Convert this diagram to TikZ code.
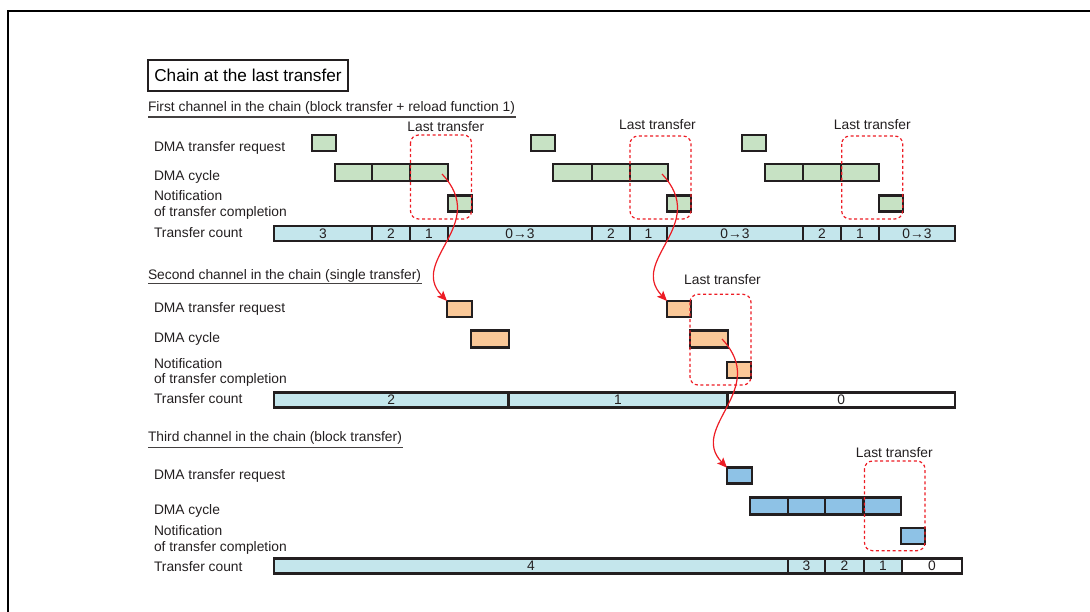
\documentclass[tikz,border=0pt]{standalone}
\usepackage{fontspec}
\setmainfont{Liberation Sans}
\usetikzlibrary{arrows.meta,calc}

\definecolor{ink}{RGB}{35,31,32}
\definecolor{gfill}{RGB}{199,226,196}
\definecolor{ofill}{RGB}{250,200,152}
\definecolor{bfill}{RGB}{142,194,230}
\definecolor{cfill}{RGB}{196,230,236}
\definecolor{chainred}{RGB}{237,28,36}

% a rectangular cell given by its left/right edges and vertical centre
\newcommand{\cell}[6]{%
  \node[#2, minimum width={(#4-#3)*1pt}] (#1) at ({(#3+#4)/2},#5) {#6};}

\begin{document}
\begin{tikzpicture}[x=1pt,y=-1pt,
  txt/.style={anchor=base west, inner sep=0pt, outer sep=0pt,
    font=\fontsize{13.8}{16}\selectfont, text=ink},
  note/.style={anchor=base, inner sep=0pt, outer sep=0pt,
    font=\fontsize{13.8}{16}\selectfont, text=ink},
  cellbase/.style={draw=ink, line width=2.8pt, inner sep=0pt, outer sep=0pt,
    font=\fontsize{13.8}{16}\selectfont, text=ink},
  greq/.style={cellbase, fill=gfill, minimum height=16pt},
  gcyc/.style={cellbase, fill=gfill, minimum height=17pt},
  gnot/.style={cellbase, fill=gfill, minimum height=16pt},
  oreq/.style={cellbase, fill=ofill, minimum height=16pt},
  ocyc/.style={cellbase, fill=ofill, minimum height=17pt},
  onot/.style={cellbase, fill=ofill, minimum height=16pt},
  breq/.style={cellbase, fill=bfill, minimum height=16pt},
  bcyc/.style={cellbase, fill=bfill, minimum height=17pt},
  bnot/.style={cellbase, fill=bfill, minimum height=16pt},
  cnt/.style={cellbase, fill=cfill, minimum height=15pt},
  cntz/.style={cellbase, fill=white, minimum height=15pt},
  lastbox/.style={draw=chainred, line width=1.2pt, dash pattern=on 3pt off 2.6pt,
    rounded corners=8pt},
  chain/.style={draw=chainred, line width=1.2pt,
    -{Stealth[length=10pt,width=8.5pt,inset=2pt]}},
  uline/.style={draw=ink!85, line width=1.3pt}
]
\useasboundingbox (0,0) rectangle (1090,612);

% page frame
\draw[line width=2pt, black] (7.5,612) -- (7.5,11) -- (1090,11);

% title
\node[draw=ink, line width=2pt, minimum width=200pt, minimum height=31pt,
  inner sep=0pt, font=\fontsize{17.2}{20}\selectfont, text=black] (title)
  at (248,75.5) {Chain at the last transfer};

% ---------------- first channel ----------------
\node[txt] (h1) at (148,112) {First channel in the chain (block transfer + reload function 1)};
\draw[uline] ($(h1.base west)+(0,5)$) -- ($(h1.base east)+(1,5)$);

\node[txt] (l1req) at (154,152) {DMA transfer request};
\node[txt] (l1cyc) at (154,181) {DMA cycle};
\node[txt] (l1not) at (154,201) {Notification};
\node[txt] (l1not2) at (154,217) {of transfer completion};
\node[txt] (l1cnt) at (154,238) {Transfer count};

\cell{r1a}{greq}{312}{336}{143}{}
\cell{r1b}{greq}{531}{555}{143}{}
\cell{r1c}{greq}{742}{766}{143}{}

\cell{c1a}{gcyc}{335}{372}{172.5}{}
\cell{c1b}{gcyc}{372}{410}{172.5}{}
\cell{c1c}{gcyc}{410}{448}{172.5}{}
\cell{c1d}{gcyc}{553}{592}{172.5}{}
\cell{c1e}{gcyc}{592}{630}{172.5}{}
\cell{c1f}{gcyc}{630}{668}{172.5}{}
\cell{c1g}{gcyc}{765}{803}{172.5}{}
\cell{c1h}{gcyc}{803}{841}{172.5}{}
\cell{c1i}{gcyc}{841}{879}{172.5}{}

\cell{n1a}{gnot}{448}{472}{203.5}{}
\cell{n1b}{gnot}{667}{691}{203.5}{}
\cell{n1c}{gnot}{879}{903}{203.5}{}

\cell{t1a}{cnt}{274}{372}{233.5}{3}
\cell{t1b}{cnt}{372}{410}{233.5}{2}
\cell{t1c}{cnt}{410}{448}{233.5}{1}
\cell{t1d}{cnt}{448}{592}{233.5}{0→3}
\cell{t1e}{cnt}{592}{630}{233.5}{2}
\cell{t1f}{cnt}{630}{667}{233.5}{1}
\cell{t1g}{cnt}{667}{803}{233.5}{0→3}
\cell{t1h}{cnt}{803}{841}{233.5}{2}
\cell{t1i}{cnt}{841}{879}{233.5}{1}
\cell{t1j}{cnt}{879}{955}{233.5}{0→3}

\draw[lastbox] (410.5,135) rectangle (471.5,219);
\draw[lastbox] (630,136) rectangle (691,219);
\draw[lastbox] (841.7,136) rectangle (902.7,219);
\node[note] (lt1a) at (445.8,132) {Last transfer};
\node[note] (lt1b) at (657.5,129.5) {Last transfer};
\node[note] (lt1c) at (872.3,129.5) {Last transfer};

% ---------------- second channel ----------------
\node[txt] (h2) at (148,279.3) {Second channel in the chain (single transfer)};
\draw[uline] ($(h2.base west)+(0,4.5)$) -- ($(h2.base east)+(1,4.5)$);

\node[txt] (l2req) at (154,313) {DMA transfer request};
\node[txt] (l2cyc) at (154,343) {DMA cycle};
\node[txt] (l2not) at (154,368) {Notification};
\node[txt] (l2not2) at (154,384) {of transfer completion};
\node[txt] (l2cnt) at (154,403) {Transfer count};

\cell{r2a}{oreq}{447}{472}{309}{}
\cell{r2b}{oreq}{667}{691}{309}{}
\cell{c2a}{ocyc}{471}{509}{339}{}
\cell{c2b}{ocyc}{690}{728}{339}{}
\cell{n2a}{onot}{727}{751}{370}{}

\cell{t2a}{cnt}{274}{508.5}{400}{2}
\cell{t2b}{cnt}{508.5}{727.5}{400}{1}
\cell{t2c}{cntz}{727.5}{955}{400}{0}

\draw[lastbox] (690,294.3) rectangle (751,385);
\node[note] (lt2) at (722.5,285) {Last transfer};

% ---------------- third channel ----------------
\node[txt] (h3) at (148,441.7) {Third channel in the chain (block transfer)};
\draw[uline] ($(h3.base west)+(0,6)$) -- ($(h3.base east)+(1,6)$);

\node[txt] (l3req) at (154,479) {DMA transfer request};
\node[txt] (l3cyc) at (154,514) {DMA cycle};
\node[txt] (l3not) at (154,535) {Notification};
\node[txt] (l3not2) at (154,551) {of transfer completion};
\node[txt] (l3cnt) at (154,571) {Transfer count};

\cell{r3a}{breq}{727}{752}{475.7}{}
\cell{c3a}{bcyc}{750}{788}{505.7}{}
\cell{c3b}{bcyc}{788}{825}{505.7}{}
\cell{c3c}{bcyc}{825}{863.5}{505.7}{}
\cell{c3d}{bcyc}{863.5}{901}{505.7}{}
\cell{n3a}{bnot}{901}{925}{536}{}

\cell{t3a}{cnt}{274}{788}{566}{4}
\cell{t3b}{cnt}{788}{825}{566}{3}
\cell{t3c}{cnt}{825}{864}{566}{2}
\cell{t3d}{cnt}{864}{902}{566}{1}
\cell{t3e}{cntz}{902}{962}{566}{0}

\draw[lastbox] (864.5,461) rectangle (925,550.7);
\node[note] (lt3) at (894.3,457) {Last transfer};

% ---------------- chain links ----------------
\coordinate (s1) at ($(c1c.center)+(13,1.5)$);
\coordinate (s2) at ($(c1f.center)+(13,1.5)$);
\coordinate (s3) at ($(c2b.center)+(13,0)$);
\draw[chain] (s1) .. controls +(48,51) and +(-39,-41) .. (r2a.north west);
\draw[chain] (s2) .. controls +(48,51) and +(-39,-41) .. (r2b.north west);
\draw[chain] (s3) .. controls +(48,51) and +(-39,-41) .. (r3a.north west);

\end{tikzpicture}
\end{document}
